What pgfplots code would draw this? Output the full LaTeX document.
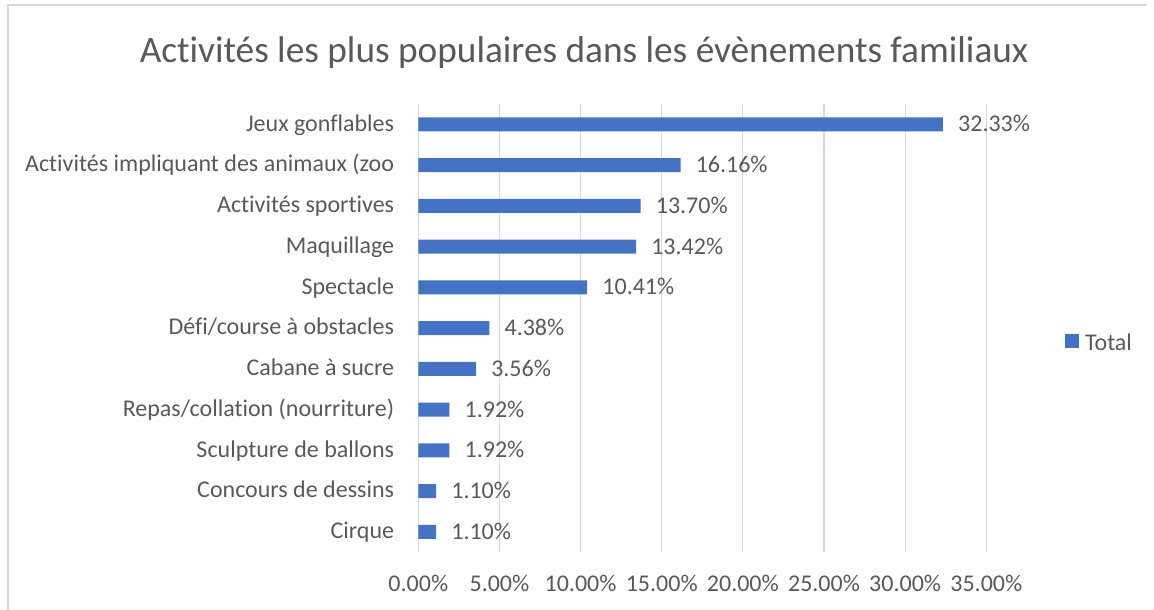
\documentclass[border=0pt]{standalone}
\usepackage{fontspec}
\setmainfont{Carlito}[Ligatures={NoCommon}]
\usepackage{pgfplots}
\pgfplotsset{compat=1.18}
\definecolor{barblue}{HTML}{4472C4}
\definecolor{txtgray}{HTML}{595959}
\definecolor{gridgray}{HTML}{D9D9D9}
\newcommand{\lblfont}{\fontsize{24bp}{28.8bp}\selectfont}

\begin{document}
\begin{tikzpicture}[x=1bp,y=1bp]
\useasboundingbox (0,0) rectangle (1154,610);
% chart area border (left and top edges visible)
\draw[gridgray, line width=1.5bp] (8,0) -- (8,605) -- (1147,605);
\node[anchor=base, text=txtgray, inner sep=0pt,
      font=\fontsize{37.3bp}{44bp}\selectfont] at (584,547.5)
  {Activités les plus populaires dans les évènements familiaux};

\begin{axis}[
    at={(418.3bp,57.7bp)}, anchor=south west,
    scale only axis,
    width=568bp, height=448.3bp,
    xbar, bar width=14bp,
    xmin=0, xmax=35,
    ymin=-0.5, ymax=10.5,
    y dir=reverse,
    clip=false,
    axis lines*=left,
    x axis line style={draw=none},
    y axis line style={gridgray, line width=1.2bp},
    major tick length=0pt,
    xmajorgrids,
    major grid style={gridgray, line width=1.2bp},
    xtick={0,5,...,35},
    ytick={0,...,10},
    yticklabels={
        Jeux gonflables,
        Activités impliquant des animaux (zoo,
        Activités sportives,
        Maquillage,
        Spectacle,
        Défi/course à obstacles,
        Cabane à sucre,
        Repas/collation (nourriture),
        Sculpture de ballons,
        Concours de dessins,
        Cirque},
    /pgf/number format/assume math mode=true,
    xticklabel={\pgfmathprintnumber[fixed,fixed zerofill,precision=2]{\tick}\%},
    every tick label/.append style={font=\lblfont, text=txtgray, inner sep=0pt},
    xticklabel style={anchor=base, yshift=-39.4bp},
    yticklabel style={anchor=base east, xshift=-24bp, yshift=-6.8bp},
    point meta=x,
    nodes near coords={\pgfmathprintnumber[fixed,fixed zerofill,precision=2]{\pgfplotspointmeta}\%},
    every node near coord/.append style={anchor=base west, inner sep=0pt,
        xshift=15bp, yshift=-7.5bp, font=\lblfont, text=txtgray},
    legend style={draw=none, fill=none, anchor=south west,
        at={(1.1386,0.4468)}, inner sep=0pt, outer sep=0pt,
        nodes={inner sep=0pt, text=txtgray, font=\lblfont},
        /tikz/every odd column/.style={column sep=6bp}},
]

\addplot[fill=barblue, draw=none,
    legend image code/.code={\fill[barblue] (0bp,-5bp) rectangle (14bp,9bp);}]
coordinates {
    (32.33,0)
    (16.16,1)
    (13.70,2)
    (13.42,3)
    (10.41,4)
    (4.38,5)
    (3.56,6)
    (1.92,7)
    (1.92,8)
    (1.10,9)
    (1.10,10)
};
\addlegendentry{Total}

\end{axis}
\end{tikzpicture}
\end{document}
